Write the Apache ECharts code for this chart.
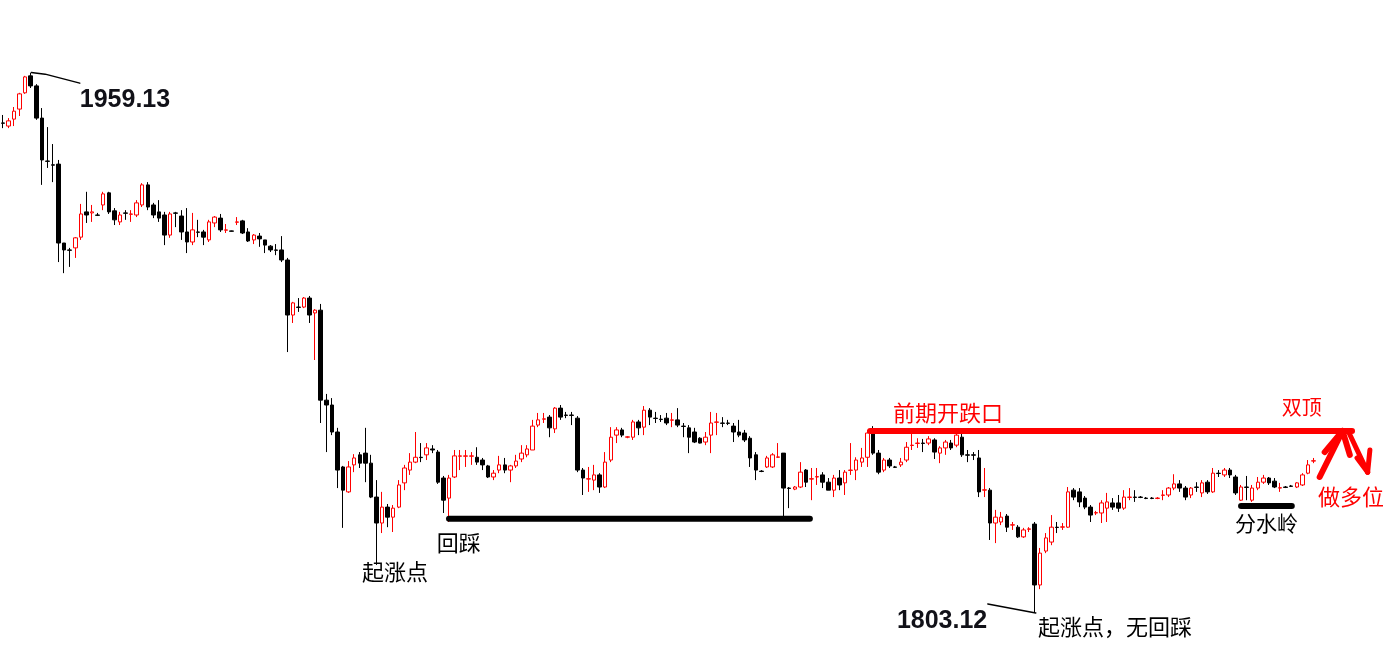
<!DOCTYPE html>
<html><head><meta charset="utf-8">
<script src="https://cdn.jsdelivr.net/npm/echarts@6/dist/echarts.min.js"></script>
<style>html,body{margin:0;padding:0;background:#fff;}#c{width:1400px;height:657px;}</style>
</head><body><div id="c"></div>
<script>
// candles: [open, close, low, high]
const leg1 = [
[1944.7,1944.6,1943.2,1947.0],[1943.8,1945.3,1943.2,1946.1],[1945.8,1948.1,1943.8,1949.3],[1948.7,1953.1,1946.7,1953.4],
[1953.4,1958.0,1953.1,1958.3],[1958.3,1955.4,1954.8,1959.13],[1955.4,1946.1,1945.6,1955.9],[1946.1,1934.0,1926.8,1949.0],
[1933.7,1933.6,1931.7,1943.5],[1932.6,1932.5,1927.6,1938.6],[1932.8,1910.0,1904.5,1934.0],[1910.0,1908.0,1901.3,1910.0],
[1908.0,1907.9,1903.1,1908.6],[1908.6,1911.5,1905.7,1911.7],[1911.7,1918.4,1910.9,1921.3],[1919.0,1918.1,1915.8,1924.8],
[1918.7,1919.0,1916.1,1921.0],[1918.1,1918.0,1917.8,1918.7],[1921.0,1924.2,1919.5,1924.8],[1924.5,1919.0,1918.4,1924.8],
[1919.3,1916.7,1915.2,1920.1],[1916.1,1918.1,1915.2,1919.0],[1918.7,1918.6,1916.7,1919.5],[1918.3,1918.4,1916.1,1919.5],
[1918.1,1921.6,1917.5,1922.4],[1921.0,1926.8,1920.4,1927.3],[1926.8,1920.4,1919.5,1927.6],[1921.0,1918.1,1917.2,1921.6],
[1919.0,1917.2,1916.1,1922.4],[1918.1,1912.3,1909.4,1919.0],[1912.3,1918.4,1911.5,1919.0],[1918.7,1918.6,1914.6,1919.0],
[1917.8,1913.2,1910.9,1919.5],[1913.2,1910.3,1907.1,1920.1],[1910.3,1913.8,1909.4,1918.7],[1913.2,1913.1,1911.7,1916.7],
[1913.2,1911.7,1909.4,1913.8],[1910.9,1916.1,1910.3,1916.7],[1915.8,1917.5,1914.6,1917.8],[1917.2,1913.8,1913.2,1918.4],
[1913.7,1913.8,1912.9,1915.5],[1913.5,1913.4,1913.3,1913.6],[1916.0,1916.1,1915.2,1917.5],[1916.4,1912.9,1912.6,1916.7],
[1913.2,1910.6,1910.3,1914.3],[1910.9,1912.3,1909.7,1912.6],[1912.0,1911.2,1908.9,1912.9],[1910.9,1909.4,1907.1,1910.9],
[1909.1,1908.0,1907.4,1909.4],[1908.0,1907.9,1906.5,1909.7],[1908.0,1905.1,1904.5,1912.0],[1905.1,1889.2,1878.5,1905.7],
[1889.2,1892.7,1886.9,1893.0],[1891.5,1891.4,1890.1,1894.1],[1891.5,1894.1,1891.2,1894.4],[1894.1,1889.2,1886.9,1894.7],
[1889.8,1890.6,1876.2,1890.9],[1890.6,1864.6,1858.0,1892.4],[1864.6,1863.2,1849.6,1866.4],[1863.2,1855.4,1854.5,1865.2]
];
const leg2 = [
[1855.4,1844.4,1839.2,1856.6],[1845.3,1838.6,1827.7,1845.6],[1838.1,1845.3,1837.8,1847.0],[1845.9,1847.9,1843.8,1849.0],
[1848.8,1846.4,1845.0,1849.6],[1849.3,1846.4,1840.9,1856.6],[1846.4,1836.6,1836.3,1848.8],[1836.6,1829.1,1817.0,1841.5],
[1829.1,1833.7,1826.2,1838.1],[1833.7,1830.8,1827.9,1834.6],[1830.8,1833.4,1826.5,1834.3],[1833.7,1840.1,1833.4,1841.5],
[1840.7,1845.0,1838.6,1845.9],[1844.4,1846.7,1843.0,1849.3],[1846.7,1848.1,1846.4,1855.4],[1848.1,1848.0,1846.7,1852.2],
[1848.8,1850.8,1847.3,1852.2],[1850.5,1850.2,1849.3,1851.6],[1849.6,1840.9,1840.4,1850.2],[1842.1,1835.7,1832.0,1842.7],
[1836.3,1842.1,1829.4,1843.0],[1842.4,1848.5,1842.1,1850.2],[1848.4,1848.5,1844.4,1850.2],[1848.4,1848.5,1845.3,1850.2],
[1848.4,1848.5,1845.9,1849.6],[1848.1,1846.7,1845.9,1851.0],[1847.3,1845.9,1844.4,1847.9],
[1845.6,1842.4,1842.1,1845.9],[1842.4,1843.5,1841.5,1844.4],[1844.4,1845.9,1843.5,1848.5],[1845.9,1844.4,1843.5,1847.9],
[1844.4,1845.6,1840.9,1845.9],[1845.6,1847.0,1845.0,1848.8],[1847.6,1849.3,1846.7,1851.6],[1848.8,1850.5,1848.1,1851.6],
[1850.2,1857.1,1850.2,1858.9],[1857.4,1858.9,1856.8,1860.9],[1859.1,1859.2,1858.0,1860.9],[1859.7,1856.6,1853.9,1860.3],
[1856.3,1862.3,1855.1,1862.6],[1862.3,1859.7,1858.9,1863.2],[1860.3,1860.2,1859.4,1861.2],[1860.3,1860.2,1857.4,1861.2],
[1859.4,1844.4,1843.8,1860.0],[1844.4,1842.1,1837.2,1845.0],[1841.8,1841.9,1838.1,1845.3],[1841.5,1843.0,1838.6,1845.9],
[1843.0,1839.5,1837.8,1843.5],[1839.5,1846.7,1839.2,1849.6],[1847.3,1853.9,1846.7,1856.8],[1854.5,1856.0,1852.2,1856.8],
[1856.0,1854.5,1853.9,1856.6],[1853.9,1854.0,1853.6,1854.2],[1853.9,1858.3,1853.1,1858.9],[1858.3,1856.6,1854.5,1858.9],
[1856.8,1861.7,1854.5,1862.9],[1861.7,1859.7,1857.4,1862.3],[1859.4,1859.3,1858.0,1861.2],[1859.1,1859.0,1858.3,1860.3]
];
const leg3 = [
[1859.4,1858.0,1857.4,1860.9],[1858.8,1858.9,1856.8,1860.9],[1858.9,1857.4,1856.8,1862.3],[1857.1,1857.0,1853.9,1858.0],
[1856.6,1853.9,1849.3,1857.4],[1855.4,1852.5,1852.2,1856.6],[1853.6,1852.2,1852.1,1853.9],[1852.5,1853.9,1851.6,1855.4],
[1854.5,1858.0,1849.3,1861.2],[1858.2,1858.3,1854.5,1860.9],[1858.0,1857.9,1856.8,1859.7],[1858.0,1857.9,1857.4,1858.9],
[1857.1,1855.4,1852.5,1858.0],[1855.4,1854.5,1853.9,1858.9],[1855.1,1853.1,1852.5,1856.0],
[1853.6,1847.9,1845.3,1854.2],[1848.8,1844.4,1841.5,1849.6],[1844.1,1844.0,1843.8,1844.4],[1845.3,1847.9,1845.0,1848.5],
[1845.3,1848.8,1845.0,1849.3],[1848.1,1848.2,1847.9,1852.2],[1849.3,1839.2,1830.5,1849.3],[1839.2,1839.1,1833.4,1839.5],
[1838.9,1839.5,1838.6,1839.8],[1839.5,1843.8,1839.2,1846.7],[1844.4,1840.9,1839.5,1844.7],[1841.8,1841.9,1835.7,1845.0],
[1842.4,1842.5,1840.1,1845.0],[1843.0,1840.9,1839.2,1843.8],[1840.9,1838.6,1838.6,1842.1],[1838.6,1842.1,1836.6,1843.0],
[1842.1,1840.1,1838.6,1844.4],[1840.7,1843.8,1837.2,1844.4],[1844.3,1844.4,1843.0,1852.2],[1844.4,1847.3,1841.5,1848.1],
[1846.7,1847.9,1845.3,1850.8],[1848.1,1855.1,1845.3,1856.0],[1855.1,1849.3,1848.8,1857.1],[1849.3,1843.8,1843.2,1850.2],
[1844.4,1847.3,1843.8,1847.9],[1847.3,1845.6,1845.0,1847.9],[1845.3,1845.2,1845.0,1845.6],[1845.9,1846.7,1845.3,1847.9],
[1847.3,1851.0,1846.7,1852.5],[1851.5,1851.6,1850.2,1855.1],[1852.1,1852.2,1850.8,1853.6],[1852.2,1852.1,1849.6,1853.4],
[1852.2,1853.4,1851.6,1854.2],[1853.1,1849.6,1847.6,1853.6],[1849.3,1850.8,1846.4,1851.3],[1850.8,1852.5,1848.8,1853.1],
[1852.2,1850.8,1850.2,1853.1],[1851.6,1854.5,1851.0,1856.0],[1853.9,1848.8,1848.2,1855.1],[1848.8,1848.7,1846.7,1850.2],
[1848.8,1848.7,1847.3,1849.6],[1847.9,1838.1,1836.6,1850.2],[1838.6,1838.7,1836.6,1845.0],[1838.6,1829.1,1824.2,1839.2]
];
const leg4 = [
[1829.1,1830.8,1823.3,1832.9],[1829.4,1830.8,1828.5,1832.3],[1831.1,1827.9,1826.5,1831.7],[1828.5,1828.6,1827.1,1829.4],
[1827.9,1825.1,1824.8,1828.5],[1825.1,1827.1,1824.8,1827.7],[1827.3,1827.4,1826.5,1827.9],[1828.8,1811.2,1803.12,1829.4],
[1811.2,1820.4,1810.0,1821.9],[1821.0,1824.8,1820.4,1826.2],[1823.6,1827.9,1822.7,1831.4],
[1827.9,1827.8,1826.2,1829.4],[1827.9,1828.0,1827.1,1829.1],[1827.9,1838.1,1827.7,1839.5],[1838.6,1836.6,1835.7,1839.2],
[1838.1,1835.2,1833.7,1839.2],[1836.3,1833.7,1833.1,1836.9],[1833.7,1831.4,1829.4,1834.3],[1832.0,1832.1,1831.4,1832.6],
[1832.0,1834.9,1829.1,1835.7],[1833.4,1835.2,1829.4,1837.8],[1834.9,1833.7,1832.9,1836.3],[1834.9,1833.4,1832.3,1837.2],
[1833.4,1836.6,1832.9,1838.6],[1836.5,1836.6,1835.7,1839.2],[1836.6,1836.5,1835.2,1838.6],[1836.6,1836.5,1836.3,1836.9],
[1836.3,1836.2,1836.0,1836.6],[1836.3,1836.2,1836.0,1836.6],[1836.2,1836.3,1836.0,1836.6],[1837.1,1837.2,1835.7,1838.6],
[1837.2,1839.2,1836.6,1839.5],[1839.2,1840.4,1838.6,1843.2],[1840.4,1839.2,1838.1,1841.5],[1839.2,1836.6,1835.7,1839.8],
[1837.2,1839.2,1836.3,1839.5],[1839.5,1839.4,1838.1,1840.9],[1837.8,1840.7,1836.6,1841.5],[1840.9,1838.1,1837.5,1841.5],
[1838.1,1843.5,1837.8,1845.0],[1843.5,1843.4,1842.4,1844.4],[1843.0,1844.4,1842.4,1845.0],[1844.4,1843.0,1842.1,1845.0],
[1842.4,1837.8,1837.2,1843.0],[1835.7,1839.5,1835.5,1840.1],[1839.5,1839.4,1835.7,1842.7],
[1835.7,1839.2,1835.2,1840.1],[1839.2,1840.9,1838.6,1842.4],[1840.9,1842.1,1840.4,1843.0],[1842.1,1840.7,1840.1,1842.4],
[1841.2,1839.5,1839.2,1842.1],[1839.2,1839.3,1838.1,1840.7],[1839.5,1839.4,1839.2,1839.8],[1839.8,1839.7,1839.5,1840.1],
[1839.5,1840.7,1839.2,1840.9],[1840.1,1843.0,1839.8,1843.5],[1843.5,1845.9,1843.2,1847.3],[1847.0,1847.1,1846.4,1847.9]
];
const candles = leg1.concat(leg2, leg3, leg4);
const emptySlots = 15; // blank space to the right of the last candle
const categories = candles.map((_, i) => 'K' + (i + 1)).concat(Array.from({length: emptySlots}, (_, i) => 'E' + (i + 1)));

// annotation geometry: [slot position, price]
const peakLine = [[5.6, 1959.3], [8.1, 1958.8], [14.3, 1956.2]];
const lowLine = [[177.1, 1805.7], [185.7, 1803.12]];
const supportLine = [[80.5, 1830.3], [145.2, 1830.3]];
const gapLine = [[156.0, 1855.7], [242.4, 1855.7]];
const ridgeLine = [[222.5, 1834.0], [231.6, 1834.0]];
const arrowUp = [[236.6, 1842.4], [240.7, 1855.7]];
const arrowUpHeadL = [[240.7, 1855.7], [237.5, 1849.6]];
const arrowUpHeadR = [[240.7, 1855.7], [242.0, 1848.8]];
const arrowDown = [[241.7, 1855.7], [245.2, 1843.8]];
const arrowDownHeadL = [[245.2, 1843.8], [243.3, 1847.9]];
const arrowDownHeadR = [[245.2, 1843.8], [245.6, 1850.2]];

const labels = [
  {text: '1959.13', pos: [14.3, 1951.3], color: '#111118', size: 25, font: 'Liberation Sans', weight: 'bold'},
  {text: '1803.12', pos: [160.8, 1800.8], color: '#111118', size: 25, font: 'Liberation Sans', weight: 'bold'},
  {text: '起涨点', pos: [64.9, 1815.0], color: '#000', size: 22, font: 'Noto Sans CJK SC', weight: 'normal'},
  {text: '回踩', pos: [78.3, 1823.3], color: '#000', size: 22, font: 'Noto Sans CJK SC', weight: 'normal'},
  {text: '前期开跌口', pos: [160.1, 1860.9], color: '#ff0000', size: 22, font: 'Noto Sans CJK SC', weight: 'normal'},
  {text: '双顶', pos: [229.8, 1862.6], color: '#ff0000', size: 20, font: 'Noto Sans CJK SC', weight: 'normal'},
  {text: '做多位', pos: [236.3, 1836.6], color: '#ff0000', size: 22, font: 'Noto Sans CJK SC', weight: 'normal'},
  {text: '分水岭', pos: [221.4, 1829.1], color: '#000', size: 21, font: 'Noto Sans CJK SC', weight: 'normal'},
  {text: '起涨点，无回踩', pos: [186.1, 1799.3], color: '#000', size: 22, font: 'Noto Sans CJK SC', weight: 'normal'}
];

function lineSeries(data, color, width) {
  return {type: 'line', xAxisIndex: 1, yAxisIndex: 0, data: data, symbol: 'none', silent: true,
    lineStyle: {color: color, width: width, cap: 'round', join: 'round', opacity: 1}, z: 5, animation: false};
}

const chart = echarts.init(document.getElementById('c'), null, {renderer: 'canvas'});
chart.setOption({
  backgroundColor: '#ffffff',
  animation: false,
  grid: {left: 0, right: 0, top: 0, bottom: 0},
  xAxis: [
    {type: 'category', data: categories, boundaryGap: true, show: false},
    {type: 'value', min: 0, max: categories.length, show: false}
  ],
  yAxis: [{type: 'value', min: 1790.39, max: 1980.22, show: false, scale: true}],
  series: [
    {type: 'candlestick', data: candles, barWidth: 4, z: 3,
     itemStyle: {color: '#ffffff', color0: '#000000', borderColor: '#ff0000', borderColor0: '#000000', borderWidth: 1}},
    lineSeries(peakLine, '#000', 1.5),
    lineSeries(lowLine, '#000', 1.5),
    lineSeries(supportLine, '#000', 6),
    lineSeries(gapLine, '#ff0000', 6),
    lineSeries(ridgeLine, '#000', 6),
    lineSeries(arrowUp, '#ff0000', 6),
    lineSeries(arrowUpHeadL, '#ff0000', 6),
    lineSeries(arrowUpHeadR, '#ff0000', 6),
    lineSeries(arrowDown, '#ff0000', 5),
    lineSeries(arrowDownHeadL, '#ff0000', 5),
    lineSeries(arrowDownHeadR, '#ff0000', 5),
    {type: 'scatter', xAxisIndex: 1, yAxisIndex: 0, symbolSize: 0, silent: true, z: 6,
     itemStyle: {opacity: 1},
     data: labels.map(l => ({value: l.pos, label: {show: true, position: 'right', distance: 0, opacity: 1,
       formatter: l.text, color: l.color, fontSize: l.size, fontFamily: l.font, fontWeight: l.weight}}))}
  ]
});
</script></body></html>
